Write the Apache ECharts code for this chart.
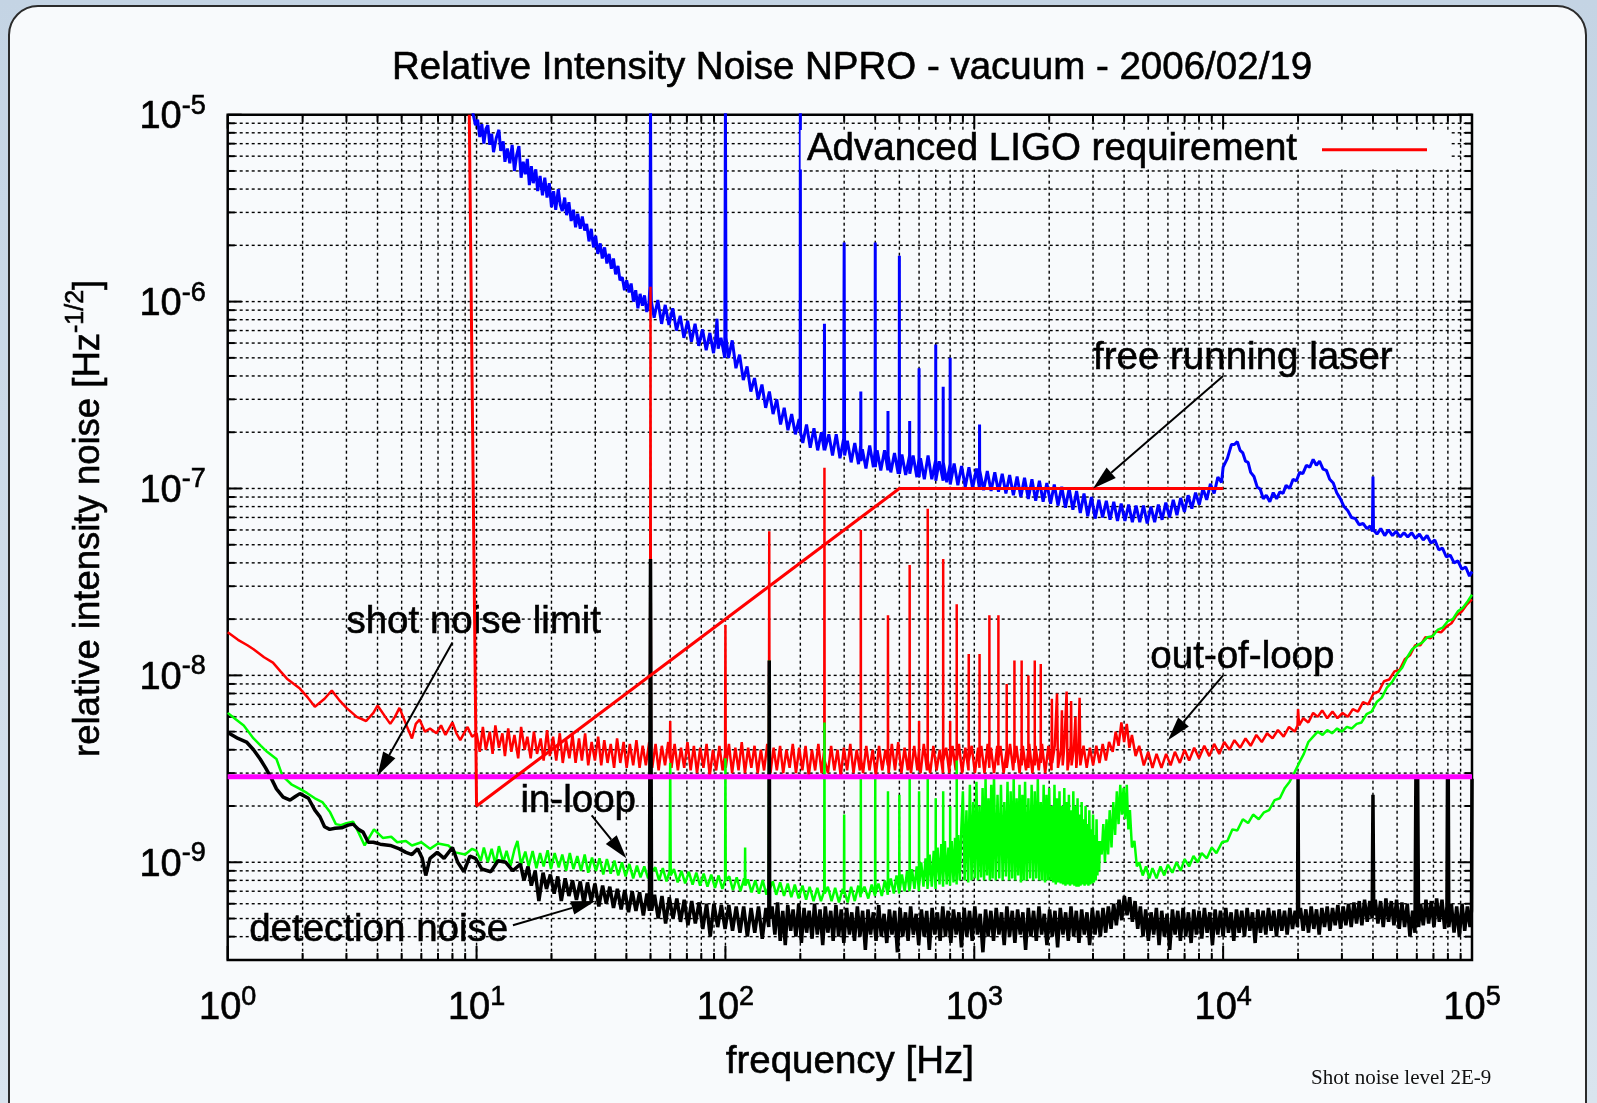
<!DOCTYPE html>
<html><head><meta charset="utf-8">
<script src="https://cdn.jsdelivr.net/npm/echarts@6/dist/echarts.min.js"></script>
<style>
html,body{margin:0;padding:0;width:1597px;height:1103px;overflow:hidden;background:linear-gradient(180deg,#c4d4e4,#d9e4ee);}
#panel{position:absolute;left:8px;top:5px;width:1579px;height:1130px;border:2px solid #2b2b2b;border-radius:30px;background:#f8fafc;box-sizing:border-box;}
#chart{position:absolute;left:0;top:0;width:1597px;height:1103px;}
</style></head>
<body><div id="panel"></div><div id="chart"></div>
<script>
// ---------- data (frequency [Hz], relative intensity noise [1/sqrt(Hz)]) ----------
const freeRunning = [
[9.5,1.2e-5],[9.7,1.0e-5],[9.9,8.8e-6],[10.1,9.4e-6],[10.3,7.6e-6],[10.5,8.9e-6],[10.7,7.0e-6],[10.9,8.4e-6],[11.1,8.8e-6],[11.3,6.9e-6],[11.5,7.9e-6],[11.7,6.3e-6],[12.0,7.5e-6],[12.3,8.3e-6],[12.5,6.4e-6],[12.8,7.2e-6],[13.0,5.6e-6],[13.3,6.6e-6],[13.6,5.5e-6],[13.9,6.9e-6],[14.2,5.0e-6],[14.5,6.1e-6],[14.8,6.8e-6],[15.1,4.6e-6],[15.4,5.6e-6],[15.7,4.8e-6],[16.0,5.8e-6],[16.3,4.2e-6],[16.6,5.3e-6],[16.9,4.3e-6],[17.3,5.1e-6],[17.6,3.9e-6],[18.0,4.7e-6],[18.4,3.7e-6],[18.8,4.6e-6],[19.2,3.6e-6],[19.6,4.3e-6],[20.0,3.2e-6],[20.4,3.9e-6],[20.8,3.1e-6],[21.3,4.0e-6],[21.7,3.3e-6],[22.1,3.05e-6],[22.6,3.6e-6],[23.0,2.9e-6],[23.5,3.4e-6],[24.0,2.7e-6],[24.5,3.1e-6],[25.0,2.5e-6],[25.5,2.95e-6],[26.1,2.45e-6],[26.6,2.85e-6],[27.2,2.4e-6],[27.7,2.6e-6],[28.3,2.1e-6],[28.9,2.45e-6],[29.5,1.95e-6],[30.1,2.25e-6],[30.7,1.8e-6],[31.4,2.05e-6],[32.0,1.7e-6],[32.7,1.95e-6],[33.4,1.6e-6],[34.1,1.8e-6],[34.8,1.5e-6],[35.5,1.7e-6],[36.2,1.4e-6],[37.0,1.55e-6],[37.7,1.3e-6],[38.5,1.35e-6],[39.3,1.15e-6],[40.1,1.3e-6],[41.0,1.12e-6],[41.8,1.25e-6],[42.7,1.0e-6],[43.6,1.15e-6],[44.5,0.92e-6],[45.4,1.1e-6],[46.4,0.95e-6],[47.3,1.08e-6],[48.3,0.88e-6],[49.3,0.98e-6],[49.7,1.2e-6],[50,1.2e-5],[50.3,1.2e-6],
[50.4,1.0e-6],[51.7,8.2e-7],[53.5,1.02e-6],[55.4,7.6e-7],[57.3,9.6e-7],[59.3,7.5e-7],[61.4,9.2e-7],[63.6,7.0e-7],[65.8,8.4e-7],[68.1,6.4e-7],[70.5,7.9e-7],[73,6.1e-7],[75.5,7.6e-7],[78.1,5.8e-7],[80.9,7.1e-7],[83.7,5.5e-7],[86.6,6.8e-7],[89.6,5.3e-7],[91.5,6.5e-7],[92.5,8.1e-7],[93.5,5.6e-7],[96,6.4e-7],[99.4,5.0e-7],[100,1.2e-5],[100.6,6.4e-7],[102.9,5.0e-7],[106.5,6.2e-7],[110.2,4.4e-7],[114,5.2e-7],[118,3.8e-7],[122.2,4.5e-7],[126.5,3.3e-7],[130.9,3.9e-7],[135.4,3.0e-7],[140.2,3.6e-7],[145.1,2.7e-7],[150.2,3.3e-7],[155.4,2.5e-7],[160.8,3.0e-7],[166.5,2.2e-7],[172.3,2.7e-7],[178.3,2.05e-7],[184.6,2.5e-7],[191,1.95e-7],[197.7,2.35e-7],[199.6,2.0e-7],[200,1.2e-5],[200.4,2.0e-7],[204.6,1.75e-7],[211.8,2.2e-7],[219.2,1.65e-7],[226.9,2.1e-7],[234.8,1.6e-7],[243,2.0e-7],[249.5,1.6e-7],[250,7.6e-7],[250.5,1.6e-7],[260.3,1.95e-7],[269.4,1.5e-7],[278.8,1.95e-7],[288.6,1.45e-7],[298.7,1.85e-7],[300,2.07e-6],[301.3,1.5e-7],[309,1.8e-7],[320,1.38e-7],[331,1.75e-7],[342.6,1.35e-7],[349.5,1.7e-7],[350,3.3e-7],[350.5,1.4e-7],[355,1.62e-7],[367,1.28e-7],[380,1.7e-7],[393.3,1.3e-7],[399.5,1.6e-7],[400,2.07e-6],[400.5,1.3e-7],[407,1.6e-7],[421,1.25e-7],[436,1.6e-7],[449.5,1.25e-7],[450,2.6e-7],[450.5,1.5e-7],[462,1.22e-7],[478,1.55e-7],[494.7,1.2e-7],[499.5,1.5e-7],[500,1.76e-6],[500.5,1.2e-7],[512,1.52e-7],[530,1.18e-7],[549.5,1.5e-7],[550,2.3e-7],[550.5,1.2e-7],[568,1.5e-7],[588,1.15e-7],[599.5,1.45e-7],[600,4.4e-7],[600.5,1.15e-7],[608,1.45e-7],[630,1.12e-7],[652,1.5e-7],[675,1.12e-7],[699.5,1.42e-7],[700,5.9e-7],[700.5,1.1e-7],[723,1.4e-7],[749.5,1.1e-7],[750,3.5e-7],[750.5,1.38e-7],[775,1.08e-7],[799.5,1.35e-7],[800,5.0e-7],[800.5,1.05e-7],[830,1.36e-7],[859,1.04e-7],[889,1.32e-7],[920,1.02e-7],[952,1.3e-7],[985,1.0e-7],[1020,1.28e-7],[1049,1.0e-7],[1050,2.2e-7],[1051,1.25e-7],[1090,9.8e-8],[1128,1.24e-7],[1168,9.7e-8],[1209,1.22e-7],
[1251,9.6e-8],[1295,1.2e-7],[1340,9.4e-8],[1387,1.18e-7],[1436,9.2e-8],[1486,1.16e-7],[1538,9.0e-8],[1592,1.14e-7],[1648,8.8e-8],[1705,1.12e-7],[1765,8.6e-8],[1827,1.1e-7],[1891,8.5e-8],[1957,1.07e-7],[2025,8.3e-8],[2096,1.05e-7],[2170,8.1e-8],[2246,1.02e-7],[2324,7.9e-8],[2406,1.0e-7],[2490,7.7e-8],[2577,9.7e-8],[2667,7.4e-8],[2760,9.4e-8],[2857,7.1e-8],[2957,9.0e-8],[3060,6.9e-8],[3167,8.7e-8],[3278,7.0e-8],[3393,8.6e-8],[3512,6.8e-8],[3635,8.5e-8],[3762,6.7e-8],[3893,8.3e-8],[4030,6.7e-8],[4171,8.2e-8],[4317,6.6e-8],[4468,8.1e-8],[4624,6.6e-8],[4786,8.1e-8],[4953,6.5e-8],[5127,8.0e-8],[5306,6.6e-8],[5492,8.2e-8],[5684,6.8e-8],[5883,8.4e-8],[6089,7.0e-8],[6302,8.7e-8],[6522,7.2e-8],[6751,8.9e-8],[6987,7.5e-8],[7231,9.2e-8],[7484,7.8e-8],[7746,9.5e-8],[8017,8.2e-8],[8298,1.0e-7],[8588,8.7e-8],[8889,1.06e-7],[9200,9.4e-8],[9522,1.15e-7],[9855,1.08e-7],
[10000,1.3e-7],[10400,1.45e-7],[10800,1.72e-7],[11100,1.72e-7],[11400,1.78e-7],[11700,1.6e-7],[12000,1.55e-7],[12300,1.4e-7],[12600,1.38e-7],[12900,1.22e-7],[13300,1.16e-7],[13700,1.02e-7],[14100,9.9e-8],[14500,8.8e-8],[14900,9.2e-8],[15400,8.5e-8],[15900,9.5e-8],[16400,8.8e-8],[16900,9.6e-8],[17400,9.4e-8],[17900,1.04e-7],[18500,1.0e-7],[19100,1.12e-7],[19700,1.1e-7],[20300,1.22e-7],[20900,1.2e-7],[21600,1.33e-7],[22300,1.3e-7],[23000,1.43e-7],[23700,1.33e-7],[24400,1.4e-7],[25200,1.27e-7],[26000,1.25e-7],[26800,1.12e-7],[27700,1.07e-7],[28600,9.5e-8],[29600,8.8e-8],[30600,8.0e-8],[31700,7.6e-8],[32800,7.0e-8],[34000,6.9e-8],[35200,6.4e-8],[36500,6.5e-8],[37800,6.1e-8],[39000,6.3e-8],[39800,5.9e-8],[40000,1.16e-7],[40200,6.0e-8],[41500,5.7e-8],[43000,6.1e-8],[44600,5.6e-8],[46200,6.0e-8],[47900,5.6e-8],[49600,5.9e-8],[51400,5.5e-8],[53300,5.8e-8],[55200,5.5e-8],[57200,5.8e-8],[59300,5.4e-8],[61500,5.7e-8],[63700,5.3e-8],[66000,5.6e-8],[68400,5.1e-8],[70900,5.3e-8],[73500,4.7e-8],[76100,4.8e-8],[78900,4.3e-8],[81800,4.4e-8],[84700,4.0e-8],[87800,4.1e-8],[91000,3.7e-8],[94300,3.8e-8],[97700,3.4e-8],[100000,3.6e-8]
];
const outOfLoop = [
[1,1.7e-8],[1.1,1.55e-8],[1.2,1.45e-8],[1.27,1.38e-8],[1.4,1.25e-8],[1.52,1.17e-8],[1.63,1.05e-8],[1.73,9.6e-9],[1.95,8.5e-9],[2.1,7.6e-9],[2.24,6.8e-9],[2.45,7.5e-9],[2.62,8.3e-9],[2.8,7.4e-9],[3.0,6.7e-9],[3.3,6.0e-9],[3.6,5.7e-9],[3.85,6.3e-9],[4.0,6.9e-9],[4.3,6.0e-9],[4.5,5.5e-9],[4.7,6.0e-9],[4.9,6.7e-9],[5.2,5.5e-9],[5.5,4.6e-9],[5.7,5.5e-9],[5.9,5.8e-9],[6.2,5.0e-9],[6.5,5.2e-9],[6.9,4.9e-9],[7.2,5.4e-9],[7.5,4.8e-9],[8.0,5.6e-9],[8.3,4.9e-9],[8.6,4.5e-9],[9.2,5.3e-9],[9.6,4.7e-9],
[10,4.9e-9],[10.3,3.9e-9],[10.6,5.3e-9],[10.9,4.0e-9],[11.3,5.0e-9],[11.6,3.8e-9],[11.9,5.4e-9],[12.3,4.1e-9],[12.7,4.9e-9],[13.0,3.7e-9],[13.4,5.2e-9],[13.8,3.9e-9],[14.2,4.8e-9],[14.7,3.6e-9],[15.1,5.3e-9],[15.6,4.0e-9],[16.0,4.7e-9],[16.5,3.6e-9],[17.0,5.0e-9],[17.5,3.8e-9],[18.1,4.6e-9],[18.6,3.5e-9],[19.2,5.1e-9],[19.7,3.7e-9],[20.3,4.7e-9],[20.9,3.5e-9],[21.6,4.9e-9],[22.2,3.4e-9],[22.9,4.5e-9],[23.6,3.6e-9],[24.3,4.8e-9],[25.0,3.4e-9],[25.8,4.6e-9],[26.5,3.5e-9],[27.3,4.9e-9],[28.1,3.3e-9],[29.0,4.4e-9],[29.9,3.5e-9],[30.8,4.7e-9],[31.7,3.3e-9],[32.6,4.5e-9],[33.6,3.4e-9],[34.6,4.3e-9],[35.7,3.2e-9],[36.7,4.6e-9],[37.8,3.4e-9],[39.0,4.4e-9],[40.1,3.2e-9],[41.3,4.3e-9],[42.6,3.3e-9],[43.9,4.5e-9],[45.2,3.2e-9],[46.5,4.2e-9],[47.9,3.3e-9],[49.4,4.4e-9],[49.8,3.6e-9],[50,1.2e-6],[50.2,3.6e-9],[50.8,3.2e-9],[52.4,4.3e-9],[53.9,3.1e-9],[55.5,4.2e-9],[57.2,3.3e-9],[58.9,4.4e-9],[59.8,3.6e-9],[60,5.7e-9],[60.2,3.5e-9],[60.7,3.2e-9],[62.5,4.3e-9],[64.4,3.1e-9],[66.3,4.1e-9],[68.3,3.2e-9],[70.4,4.4e-9],[72.5,3.1e-9],[74.7,4.2e-9],[76.9,3.0e-9],[79.2,4.1e-9],[81.6,3.2e-9],[84.0,4.3e-9],[86.5,2.9e-9],[89.1,4.0e-9],[91.8,3.1e-9],[94.6,4.2e-9],[97.4,3.1e-9],[99.7,3.8e-9],[100,1.86e-8],[100.3,3.2e-9],[103.3,4.3e-9],[106.4,3.0e-9],[109.6,4.1e-9],[112.9,3.1e-9],[116.3,4.4e-9],[119.8,3.0e-9],[123.4,4.1e-9],[127.1,3.2e-9],[130.9,4.2e-9],[134.8,3.0e-9],[138.8,4.0e-9],[143.0,3.1e-9],[147.3,4.3e-9],[149.6,3.5e-9],[150,5.9e-8],[150.4,3.4e-9],[151.7,3.0e-9],[156.2,4.1e-9],[160.9,3.1e-9],[165.8,4.2e-9],[170.7,3.0e-9],[175.8,4.0e-9],[181.1,3.2e-9],[186.5,4.3e-9],[192.1,3.0e-9],[197.9,4.1e-9],[203.8,3.1e-9],[209.9,4.2e-9],[216.2,2.9e-9],[222.7,4.0e-9],[229.4,3.1e-9],[236.3,4.3e-9],[243.4,3.0e-9],[249.6,4.0e-9],[250,1.29e-7],[250.4,3.5e-9],[258.2,3.0e-9],[265.9,4.2e-9],[273.9,3.1e-9],[282.1,4.0e-9],[290.6,2.9e-9],[299.3,4.1e-9],[308.3,3.1e-9],[317.5,4.3e-9],[327.1,3.0e-9],[336.9,4.0e-9],[347.0,3.1e-9],[349.6,3.8e-9],[350,6.0e-8],[350.4,3.6e-9],[357.4,3.0e-9],[368.1,4.2e-9],[379.2,3.1e-9],[390.5,4.0e-9],[402.3,2.9e-9],[414.3,4.2e-9],[426.8,3.1e-9],[439.6,4.0e-9],[449.6,3.3e-9],[450,2.1e-8],[450.4,3.5e-9],[452.8,3.0e-9],[466.3,4.3e-9],[480.3,3.1e-9],[494.7,4.4e-9],[509.6,3.0e-9],[524.9,4.1e-9],[540.6,3.1e-9],[549.6,4.0e-9],[550,3.9e-8],[550.4,3.4e-9],[556.8,3.0e-9],[573.6,4.2e-9],[590.8,3.1e-9],[599.6,4.0e-9],[600,5.7e-9],[600.4,3.4e-9],[608.5,3.0e-9],[626.7,4.3e-9],[645.5,3.1e-9],[649.6,3.9e-9],[650,7.8e-8],[650.4,3.5e-9],[664.9,3.0e-9],[684.9,4.2e-9],[705.4,3.1e-9],[726.5,4.0e-9],[748.3,3.0e-9],[749.6,3.8e-9],[750,4.2e-8],[750.4,3.5e-9],[770.8,4.1e-9],[793.9,3.0e-9],[799.6,3.8e-9],[800,5.7e-9],[800.4,3.3e-9],[817.7,4.2e-9],[842.2,3.1e-9],[849.6,3.9e-9],[850,2.4e-8],[850.4,3.5e-9],[867.5,4.3e-9],[893.5,3.0e-9],[920.3,4.1e-9],[947.9,3.1e-9],[949.6,3.8e-9],[950,1.3e-8],[950.4,3.5e-9],[976.4,4.2e-9],[1005.7,3.0e-9],[1035.8,4.1e-9],[1049.5,3.2e-9],[1050,1.3e-8],[1050.5,3.6e-9],[1066.9,4.2e-9],[1098.9,3.0e-9],[1131.9,4.3e-9],[1149.5,3.2e-9],[1150,2.1e-8],[1150.5,3.5e-9],[1165.9,4.1e-9],[1200.9,3.0e-9],[1236.9,4.2e-9],[1249.5,3.3e-9],[1250,2.1e-8],[1250.5,3.6e-9],[1274,4.2e-9],[1312,3.0e-9],[1349.5,4.0e-9],[1350,9e-9],[1350.5,3.2e-9],[1392,4.3e-9],[1434,3.1e-9],[1449.5,3.9e-9],[1450,1.2e-8],[1450.5,3.4e-9],[1477,4.2e-9],[1521,3.0e-9],[1549.5,4.0e-9],[1550,1.2e-8],[1550.5,3.3e-9],[1567,4.2e-9],[1614,3.1e-9],[1649.5,4.0e-9],[1650,1.0e-8],[1650.5,3.2e-9],[1662,4.3e-9],[1712,3.0e-9],[1749.5,4.1e-9],[1750,1.2e-8],[1750.5,3.3e-9],[1763,4.2e-9],[1816,3.1e-9],[1849.5,4.0e-9],[1850,1.15e-8],[1850.5,3.4e-9],[1871,4.3e-9],[1927,3.0e-9],[1985,4.2e-9],[2044,3.1e-9],[2050,7.5e-9],[2056,3.4e-9],[2106,4.2e-9],[2150,8e-9],[2169,3.2e-9],[2234,4.1e-9],[2250,6.5e-9],[2266,3.3e-9],[2301,4.2e-9],[2350,8.2e-9],[2370,3.1e-9],[2441,4.2e-9],[2450,7.3e-9],[2460,3.3e-9],[2514,4.1e-9],[2550,6.0e-9],[2570,3.2e-9],[2620,4.2e-9],[2650,7.6e-9],[2668,3.3e-9],[2748,4.2e-9],[2830,3.2e-9],[2915,4.1e-9],[3003,3.3e-9],[3093,4.2e-9],[3185,3.4e-9],[3281,4.3e-9],
[3380,3.5e-9],[3480,4.4e-9],[3600,3.9e-9],[3700,5.0e-9],[3800,4.2e-9],[3900,5.6e-9],[4000,4.4e-9],[4100,5.5e-9],[4200,4.1e-9],[4300,4.8e-9],[4450,3.7e-9],[4600,4.2e-9],[4800,3.3e-9],[5000,3.9e-9],[5200,3.2e-9],[5400,3.8e-9],[5650,3.2e-9],[5900,3.8e-9],[6150,3.3e-9],[6400,3.9e-9],[6700,3.4e-9],[7000,4.0e-9],[7300,3.5e-9],[7650,4.1e-9],[8000,3.6e-9],[8400,4.2e-9],[8800,3.7e-9],[9200,4.3e-9],[9650,3.8e-9],[10100,4.4e-9],[10600,4.0e-9],[11100,4.5e-9],[11700,4.1e-9],[12300,4.6e-9],[12900,4.2e-9],[13600,4.8e-9],[14300,4.4e-9],[15000,4.9e-9],[15800,4.6e-9],[16600,5.1e-9],[17500,4.7e-9],[18400,5.3e-9],[19400,5.0e-9],[19900,5.4e-9],[20000,6.6e-9],[20200,5.4e-9],[21000,5.9e-9],[22000,5.6e-9],[23000,6.3e-9],[24000,6.0e-9],[25000,6.5e-9],[26200,5.9e-9],[27500,6.4e-9],[28800,5.9e-9],[30200,6.3e-9],[31700,6.0e-9],[33200,6.6e-9],[34800,6.4e-9],[36500,7.2e-9],[38300,7.0e-9],[40200,8.0e-9],[42200,8.2e-9],[44300,9.3e-9],[46500,9.5e-9],[48800,1.05e-8],[51200,1.07e-8],[53700,1.22e-8],[56300,1.28e-8],[59100,1.45e-8],[62000,1.45e-8],[65000,1.6e-8],[68200,1.58e-8],[71600,1.72e-8],[75100,1.7e-8],[78800,1.82e-8],[82700,1.9e-8],[86800,2.1e-8],[91000,2.2e-8],[95500,2.4e-8],[100000,2.55e-8]
];
const inLoop = [
[1,6.3e-9],[1.08,5.8e-9],[1.16,5.4e-9],[1.27,4.6e-9],[1.36,4.2e-9],[1.44,3.9e-9],[1.57,3.57e-9],[1.66,2.9e-9],[1.81,2.6e-9],[1.95,2.47e-9],[2.08,2.35e-9],[2.24,2.2e-9],[2.4,2.1e-9],[2.58,1.85e-9],[2.72,1.6e-9],[2.85,1.58e-9],[3.0,1.62e-9],[3.19,1.65e-9],[3.35,1.45e-9],[3.55,1.23e-9],[3.87,1.5e-9],[4.2,1.35e-9],[4.54,1.37e-9],[4.8,1.28e-9],[5.2,1.3e-9],[5.5,1.23e-9],[6.0,1.28e-9],[6.5,1.18e-9],[7.0,1.26e-9],[7.7,1.23e-9],[8.2,1.13e-9],[9.0,1.1e-9],[9.6,1.18e-9],
[10,1.15e-9],[10.4,1.02e-9],[10.7,1.2e-9],[11.1,1.0e-9],[11.5,1.18e-9],[11.9,0.98e-9],[12.3,1.22e-9],[12.8,1.0e-9],[13.2,1.15e-9],[13.7,0.96e-9],[14.2,1.17e-9],[14.6,1.3e-9],[15.1,0.97e-9],[15.7,1.14e-9],[16.2,0.95e-9],[16.8,1.15e-9],[17.4,0.93e-9],[18,1.12e-9],[18.6,0.95e-9],[19.3,1.16e-9],[19.9,0.92e-9],[20.6,1.12e-9],[21.4,0.94e-9],[22.1,1.1e-9],[22.9,0.9e-9],[23.7,1.12e-9],[24.5,0.92e-9],[25.4,1.08e-9],[26.3,0.9e-9],[27.2,1.1e-9],[28.1,0.88e-9],[29.1,1.06e-9],[30.2,0.9e-9],[31.2,1.05e-9],[32.3,0.86e-9],[33.4,1.04e-9],[34.6,0.87e-9],[35.8,1.02e-9],[37.1,0.85e-9],[38.4,1.0e-9],[39.7,0.84e-9],[41.1,0.98e-9],[42.6,0.82e-9],[44.1,0.96e-9],[45.6,0.83e-9],[47.2,0.95e-9],[48.9,0.82e-9],[49.7,0.88e-9],[50,3.6e-9],[50.3,0.88e-9],[52.3,0.94e-9],[54.1,0.8e-9],[56,0.93e-9],[58,0.79e-9],[59.7,0.9e-9],[60,3.4e-9],[60.3,0.85e-9],[62.1,0.92e-9],[64.3,0.78e-9],[66.6,0.9e-9],[68.9,0.77e-9],[71.3,0.89e-9],[73.8,0.76e-9],[76.4,0.88e-9],[79.1,0.75e-9],[81.8,0.87e-9],[84.7,0.74e-9],[87.7,0.86e-9],[90.8,0.73e-9],[93.9,0.85e-9],[97.2,0.72e-9],[99.7,0.8e-9],[100,3.6e-9],[100.3,0.8e-9],[103.6,0.84e-9],[107.2,0.71e-9],[111,0.83e-9],[114.9,0.7e-9],[118.9,0.82e-9],[119.7,0.75e-9],[120,1.2e-9],[120.3,0.75e-9],[123.1,0.81e-9],[127.4,0.69e-9],[131.8,0.8e-9],[136.4,0.68e-9],[141.2,0.8e-9],[146.2,0.67e-9],[149.4,0.75e-9],[150,1.2e-8],[150.6,0.72e-9],[155,0.79e-9],[160,0.67e-9],[166,0.78e-9],[172,0.66e-9],[178,0.77e-9],[184,0.65e-9],[190,0.76e-9],[197,0.64e-9],[204,0.75e-9],[211,0.63e-9],[218,0.74e-9],[226,0.62e-9],[234,0.73e-9],[242,0.62e-9],[249.4,0.7e-9],[250,5.6e-9],[250.6,0.68e-9],[258,0.74e-9],[267,0.62e-9],[276,0.73e-9],[286,0.61e-9],[296,0.72e-9],[299.5,0.68e-9],[300,1.8e-9],[300.5,0.7e-9],[310,0.61e-9],[320,0.74e-9],[331,0.62e-9],[342,0.75e-9],[349.5,0.65e-9],[350,2.9e-9],[350.6,0.68e-9],[362,0.74e-9],[375,0.64e-9],[387,0.76e-9],[399.4,0.66e-9],[400,2.9e-9],[400.6,0.68e-9],[412,0.77e-9],[425,0.66e-9],[437,0.8e-9],[449.4,0.67e-9],[450,2.4e-9],[450.6,0.7e-9],[462,0.82e-9],[475,0.68e-9],[487,0.85e-9],[499.4,0.68e-9],[500,2.3e-9],[500.6,0.7e-9],[512,0.86e-9],[525,0.7e-9],[537,0.9e-9],[549.4,0.7e-9],[550,2.8e-9],[550.6,0.72e-9],[562,0.92e-9],[575,0.72e-9],[587,0.95e-9],[599.4,0.7e-9],[600,2.4e-9],[600.6,0.75e-9],[612,1.0e-9],[625,0.74e-9],[637,1.05e-9],[649.4,0.72e-9],[650,2.8e-9],[650.6,0.75e-9],[662,1.1e-9],[675,0.74e-9],[687,1.15e-9],[699.4,0.72e-9],[700,2.2e-9],[700.6,0.78e-9],[712,1.2e-9],[725,0.76e-9],[737,1.25e-9],[749.4,0.74e-9],[750,2.4e-9],[750.6,0.8e-9],[762,1.3e-9],[775,0.76e-9],[787,1.2e-9],[799.4,0.75e-9],[800,2.0e-9],[800.6,0.8e-9],[812,1.3e-9],[825,0.78e-9],[837,1.35e-9],[849.4,0.76e-9],[850,3.5e-9],[850.6,0.8e-9],[862,1.4e-9],[875,0.8e-9],[887,1.5e-9],
[900,2.4e-9],[915,0.8e-9],[930,1.9e-9],[945,0.78e-9],[960,2.6e-9],[975,0.8e-9],[990,2.1e-9],[1005,0.82e-9],[1020,2.7e-9],[1035,0.8e-9],[1050,2.0e-9],[1065,0.83e-9],[1080,2.5e-9],[1095,0.8e-9],[1110,2.8e-9],[1125,0.85e-9],[1140,2.2e-9],[1155,0.8e-9],[1170,2.6e-9],[1185,0.82e-9],[1200,2.9e-9],[1220,0.8e-9],[1240,2.3e-9],[1260,0.82e-9],[1280,2.6e-9],[1300,0.8e-9],[1320,2.1e-9],[1340,0.84e-9],[1360,2.7e-9],[1380,0.8e-9],[1400,2.4e-9],[1420,0.82e-9],[1440,2.8e-9],[1460,0.8e-9],[1480,2.2e-9],[1500,0.85e-9],[1520,2.6e-9],[1540,0.78e-9],[1560,2.3e-9],[1580,0.8e-9],[1600,2.7e-9],[1625,0.8e-9],[1650,2.2e-9],[1675,0.82e-9],[1700,2.6e-9],[1725,0.8e-9],[1750,2.4e-9],[1775,0.82e-9],[1800,2.8e-9],[1825,0.8e-9],[1850,2.1e-9],[1875,0.8e-9],[1900,2.6e-9],[1925,0.78e-9],[1950,2.3e-9],[1975,0.8e-9],[2000,2.5e-9],[2025,0.8e-9],[2050,2.0e-9],[2075,0.78e-9],[2100,2.6e-9],[2125,0.76e-9],[2150,2.2e-9],[2175,0.78e-9],[2200,2.4e-9],[2225,0.77e-9],[2250,2.0e-9],[2275,0.76e-9],[2300,2.5e-9],[2325,0.75e-9],[2350,2.1e-9],[2375,0.76e-9],[2400,2.3e-9],[2425,0.75e-9],[2450,1.9e-9],[2475,0.76e-9],[2500,2.4e-9],[2525,0.75e-9],[2550,2.0e-9],[2575,0.74e-9],[2600,2.2e-9],[2625,0.74e-9],[2650,1.8e-9],[2675,0.75e-9],[2700,2.1e-9],[2725,0.76e-9],[2750,1.7e-9],[2775,0.75e-9],[2800,2.0e-9],[2825,0.76e-9],[2850,1.6e-9],[2875,0.75e-9],[2900,1.9e-9],[2925,0.76e-9],[2950,1.5e-9],[2975,0.77e-9],[3000,1.8e-9],[3025,0.78e-9],[3050,1.4e-9],[3075,0.8e-9],[3100,1.7e-9],[3125,0.85e-9],[3150,1.3e-9],[3175,0.9e-9],[3200,1.3e-9],
[3250,1.1e-9],[3300,1.6e-9],[3350,1.0e-9],[3400,1.7e-9],[3450,1.1e-9],[3500,1.9e-9],[3560,1.2e-9],[3620,2.1e-9],[3680,1.4e-9],[3740,2.4e-9],[3800,1.6e-9],[3860,2.6e-9],[3920,1.8e-9],[3980,2.5e-9],[4040,1.7e-9],[4100,2.6e-9],[4160,1.5e-9],[4220,1.9e-9],[4300,1.2e-9],[4400,1.3e-9],[4500,0.95e-9],[4600,1.0e-9],[4750,0.85e-9],[4900,0.95e-9],[5050,0.82e-9],[5200,0.93e-9],[5400,0.82e-9],[5600,0.95e-9],[5800,0.85e-9],[6000,0.97e-9],[6250,0.88e-9],[6500,1.0e-9],[6750,0.9e-9],[7000,1.04e-9],[7300,0.95e-9],[7600,1.08e-9],[7900,1.0e-9],[8200,1.12e-9],[8600,1.05e-9],[9000,1.2e-9],[9400,1.12e-9],[9900,1.28e-9],[10400,1.3e-9],[10900,1.5e-9],[11400,1.48e-9],[12000,1.7e-9],[12600,1.62e-9],[13200,1.8e-9],[13900,1.7e-9],[14600,1.85e-9],[15300,1.9e-9],[16100,2.15e-9],[16900,2.2e-9],[17700,2.5e-9],[18500,2.7e-9],[19300,3.0e-9],[20200,3.4e-9],[21100,3.8e-9],[22000,4.4e-9],[23000,4.7e-9],[24000,5.0e-9],[25100,4.8e-9],[26200,5.1e-9],[27400,4.9e-9],[28700,5.2e-9],[30000,5.0e-9],[31400,5.3e-9],[32900,5.2e-9],[34400,5.5e-9],[36000,5.6e-9],[37700,6.2e-9],[39500,6.4e-9],[41400,7.2e-9],[43400,7.6e-9],[45500,8.6e-9],[47700,9.2e-9],[50000,1.02e-8],[52400,1.1e-8],[54900,1.25e-8],[57500,1.38e-8],[60300,1.45e-8],[63200,1.5e-8],[66200,1.6e-8],[69400,1.62e-8],[72700,1.75e-8],[76200,1.8e-8],[79900,1.95e-8],[83700,2.0e-8],[87700,2.2e-8],[91900,2.3e-8],[96300,2.5e-8],[100000,2.7e-8]
];
const detection = [
[1,4.95e-9],[1.1,4.6e-9],[1.19,4.4e-9],[1.27,4.0e-9],[1.35,3.57e-9],[1.42,3.2e-9],[1.48,2.9e-9],[1.57,2.47e-9],[1.67,2.23e-9],[1.78,2.15e-9],[1.87,2.25e-9],[1.95,2.33e-9],[2.11,2.2e-9],[2.24,1.9e-9],[2.35,1.75e-9],[2.45,1.55e-9],[2.57,1.5e-9],[2.7,1.52e-9],[2.87,1.53e-9],[3.05,1.58e-9],[3.19,1.6e-9],[3.35,1.5e-9],[3.5,1.45e-9],[3.67,1.28e-9],[3.85,1.28e-9],[4.1,1.25e-9],[4.5,1.23e-9],[4.9,1.18e-9],[5.2,1.13e-9],[5.5,1.1e-9],[5.8,1.18e-9],[6.05,1.05e-9],[6.25,0.85e-9],[6.5,1.05e-9],[6.95,1.13e-9],[7.4,1.05e-9],[8.0,1.2e-9],[8.4,1.0e-9],[8.9,0.89e-9],[9.4,1.08e-9],[9.9,1.05e-9],[10.5,0.92e-9],[11.4,0.89e-9],[12.2,1.02e-9],[13.1,1.0e-9],[14,0.9e-9],
[15,0.98e-9],[15.5,0.8e-9],[16.1,0.95e-9],[16.6,0.75e-9],[17.2,0.9e-9],[17.8,0.62e-9],[18.5,0.88e-9],[19.1,0.72e-9],[19.8,0.86e-9],[20.5,0.68e-9],[21.2,0.84e-9],[21.9,0.62e-9],[22.7,0.82e-9],[23.5,0.66e-9],[24.3,0.8e-9],[25.2,0.63e-9],[26.1,0.79e-9],[27,0.6e-9],[27.9,0.78e-9],[28.9,0.62e-9],[29.9,0.77e-9],[31,0.58e-9],[32.1,0.75e-9],[33.2,0.6e-9],[34.3,0.74e-9],[35.5,0.57e-9],[36.8,0.72e-9],[38.1,0.56e-9],[39.4,0.71e-9],[40.8,0.54e-9],[42.2,0.7e-9],[43.7,0.55e-9],[45.2,0.69e-9],[46.8,0.52e-9],[48.4,0.68e-9],[49.5,0.55e-9],[50,4.2e-8],[50.5,0.55e-9],[51.9,0.67e-9],[53.7,0.5e-9],[55.6,0.66e-9],[57.5,0.47e-9],[59.5,0.65e-9],[61.6,0.5e-9],[63.8,0.64e-9],[66,0.48e-9],[68.3,0.63e-9],[70.7,0.46e-9],[73.2,0.62e-9],[75.7,0.47e-9],[78.4,0.61e-9],[81.1,0.44e-9],[84,0.6e-9],[86.9,0.4e-9],[89.9,0.6e-9],[93.1,0.45e-9],[96.3,0.59e-9],[99.7,0.44e-9],[103.2,0.59e-9],[106.8,0.43e-9],[110.5,0.58e-9],[114.4,0.42e-9],[118.4,0.58e-9],[122.5,0.4e-9],[126.8,0.57e-9],[131.2,0.42e-9],[135.8,0.58e-9],[140.6,0.39e-9],[145.5,0.57e-9],[149.4,0.45e-9],[150,1.2e-8],
[150.6,0.5e-9],[154,0.58e-9],[158,0.41e-9],[162,0.61e-9],[166,0.38e-9],[170,0.55e-9],[174,0.36e-9],[178,0.59e-9],[183,0.43e-9],[187,0.56e-9],[192,0.4e-9],[197,0.6e-9],[202,0.37e-9],[207,0.57e-9],[212,0.42e-9],[217,0.55e-9],[223,0.39e-9],[228,0.6e-9],[234,0.41e-9],[240,0.56e-9],[246,0.36e-9],[252,0.58e-9],[258,0.42e-9],[265,0.55e-9],[271,0.38e-9],[278,0.59e-9],[285,0.4e-9],[292,0.56e-9],[299,0.37e-9],
[307,0.57e-9],[315,0.41e-9],[322,0.54e-9],[330,0.38e-9],[339,0.58e-9],[347,0.4e-9],[356,0.55e-9],[365,0.34e-9],[374,0.56e-9],[383,0.41e-9],[393,0.54e-9],[403,0.38e-9],[413,0.59e-9],[423,0.4e-9],[434,0.53e-9],[445,0.37e-9],[456,0.56e-9],[467,0.41e-9],[479,0.55e-9],[491,0.33e-9],[503,0.57e-9],[516,0.4e-9],[529,0.54e-9],[542,0.38e-9],[555,0.58e-9],[569,0.41e-9],[584,0.53e-9],[598,0.36e-9],[613,0.56e-9],[629,0.4e-9],[644,0.55e-9],[660,0.34e-9],[677,0.57e-9],[694,0.41e-9],[711,0.54e-9],[729,0.38e-9],[747,0.58e-9],[766,0.4e-9],[785,0.55e-9],[805,0.37e-9],[825,0.56e-9],[846,0.41e-9],[867,0.54e-9],[888,0.35e-9],[911,0.57e-9],[933,0.4e-9],[957,0.55e-9],[981,0.38e-9],[1005,0.58e-9],[1030,0.41e-9],[1056,0.53e-9],[1083,0.33e-9],[1110,0.56e-9],[1137,0.4e-9],[1166,0.55e-9],[1195,0.38e-9],[1225,0.57e-9],[1256,0.41e-9],[1287,0.54e-9],[1319,0.36e-9],[1352,0.58e-9],[1386,0.4e-9],[1421,0.55e-9],[1456,0.37e-9],[1493,0.56e-9],[1530,0.41e-9],[1568,0.54e-9],[1608,0.34e-9],[1648,0.57e-9],[1689,0.4e-9],[1731,0.55e-9],[1775,0.38e-9],[1819,0.58e-9],[1865,0.41e-9],[1911,0.53e-9],[1959,0.36e-9],[2008,0.56e-9],[2058,0.4e-9],[2110,0.55e-9],[2162,0.35e-9],[2216,0.57e-9],[2272,0.41e-9],[2329,0.54e-9],[2387,0.38e-9],[2447,0.58e-9],[2508,0.4e-9],[2570,0.55e-9],[2635,0.37e-9],[2701,0.56e-9],[2768,0.41e-9],[2837,0.54e-9],[2908,0.36e-9],[2981,0.57e-9],[3056,0.41e-9],[3132,0.55e-9],[3210,0.4e-9],[3290,0.57e-9],
[3373,0.42e-9],[3457,0.58e-9],[3544,0.44e-9],[3632,0.6e-9],[3723,0.46e-9],[3816,0.63e-9],[3911,0.49e-9],[4009,0.66e-9],[4110,0.52e-9],[4212,0.65e-9],[4318,0.48e-9],[4426,0.62e-9],[4536,0.44e-9],[4650,0.58e-9],[4766,0.4e-9],
[4885,0.56e-9],[5007,0.38e-9],[5133,0.54e-9],[5261,0.41e-9],[5392,0.57e-9],[5527,0.36e-9],[5665,0.55e-9],[5807,0.4e-9],[5952,0.53e-9],[6101,0.34e-9],[6254,0.56e-9],[6410,0.41e-9],[6570,0.55e-9],[6734,0.38e-9],[6903,0.57e-9],[7075,0.4e-9],[7252,0.54e-9],[7434,0.37e-9],[7620,0.56e-9],[7810,0.41e-9],[8005,0.55e-9],[8205,0.39e-9],[8410,0.57e-9],[8621,0.42e-9],[8836,0.54e-9],[9057,0.36e-9],[9284,0.56e-9],[9516,0.41e-9],[9754,0.55e-9],[9998,0.4e-9],[10248,0.57e-9],[10504,0.42e-9],[10766,0.54e-9],[11035,0.38e-9],[11311,0.56e-9],[11594,0.42e-9],[11884,0.55e-9],[12181,0.4e-9],[12486,0.57e-9],[12798,0.43e-9],[13118,0.54e-9],[13446,0.37e-9],[13782,0.56e-9],[14126,0.42e-9],[14479,0.55e-9],[14841,0.41e-9],[15212,0.57e-9],[15593,0.43e-9],[15982,0.55e-9],[16382,0.4e-9],[16792,0.56e-9],[17211,0.43e-9],[17642,0.55e-9],[18083,0.41e-9],[18535,0.57e-9],[18998,0.44e-9],[19473,0.55e-9],[19900,0.45e-9],[20000,2.8e-9],[20100,0.5e-9],
[20459,0.57e-9],[20970,0.43e-9],[21495,0.56e-9],[22032,0.42e-9],[22583,0.58e-9],[23148,0.44e-9],[23726,0.56e-9],[24319,0.41e-9],[24927,0.57e-9],[25551,0.45e-9],[26189,0.58e-9],[26844,0.43e-9],[27515,0.57e-9],[28203,0.46e-9],[28908,0.59e-9],[29631,0.44e-9],[30372,0.58e-9],[31131,0.46e-9],[31909,0.6e-9],[32707,0.45e-9],[33525,0.61e-9],[34363,0.47e-9],[35222,0.62e-9],[36102,0.46e-9],[37005,0.63e-9],[37930,0.48e-9],[38878,0.62e-9],[39700,0.5e-9],[40000,2.3e-9],[40300,0.52e-9],
[40851,0.63e-9],[41872,0.47e-9],[42919,0.62e-9],[43992,0.45e-9],[45092,0.64e-9],[46219,0.48e-9],[47375,0.62e-9],[48559,0.46e-9],[49773,0.63e-9],[51017,0.44e-9],[52293,0.61e-9],[53600,0.45e-9],[54940,0.6e-9],[56314,0.4e-9],[57722,0.55e-9],[59000,0.42e-9],[59500,2.8e-9],[60000,0.9e-9],[60500,2.8e-9],[61000,0.45e-9],[62163,0.6e-9],[63717,0.46e-9],[65310,0.63e-9],[66943,0.47e-9],[68616,0.62e-9],[70332,0.45e-9],[72090,0.64e-9],[73892,0.48e-9],[75740,0.63e-9],[77633,0.44e-9],[79300,0.58e-9],[79700,2.8e-9],[80000,0.9e-9],[80300,2.8e-9],[80700,0.45e-9],[82620,0.6e-9],[84686,0.42e-9],[86803,0.58e-9],[88973,0.4e-9],[91197,0.6e-9],[93477,0.43e-9],[95814,0.58e-9],[98210,0.45e-9],[99500,0.55e-9],[100000,2.8e-9]
];
const shotNoise = [[1,2.87e-9],[100000,2.87e-9]];
const requirement = [[9.35,1e-5],[10,2e-9],[500,1e-7],[10000,1e-7]];

// axis ticks (decades and minor multipliers)
const xMajorTicks = [1,10,100,1000,10000,100000];
const yMajorTicks = [1e-9,1e-8,1e-7,1e-6,1e-5];
const xMinorDecades = [1,10,100,1000,10000];
const yMinorDecades = [1e-10,1e-9,1e-8,1e-7,1e-6];
const minorSteps = [2,3,4,5,6,7,8,9];

// annotations
const noteTexts = ['free running laser','shot noise limit','out-of-loop','in-loop','detection noise'];
const noteAt = [[3000,4.98e-7],[3,1.92e-8],[5100,1.25e-8],[15,2.12e-9],[1.22,4.3e-10]];
const arrowFrom = [[1e4,4e-7],[8,1.5e-8],[1e4,1e-8],[29,1.78e-9],[14,4.6e-10]];
const arrowTo = [[3000,1e-7],[4,2.9e-9],[6000,4.5e-9],[40,1.05e-9],[30,6.2e-10]];

// ---------- chart ----------
const FONT = '"Liberation Sans", Arial, Helvetica, sans-serif';
const PANEL = '#f8fafc';
const X_MIN = 1, X_MAX = 1e5, Y_MIN = 3e-10, Y_MAX = 1e-5;
const BW = 0.6; // slight stroke to thicken glyphs

function powLabel(v){
  const l = Math.log10(v), e = Math.round(l);
  if (Math.abs(l - e) > 1e-6) return '';
  return '{b|10}{s|' + e + '}';
}
const tickRich = {
  b:{fontSize:38,fontFamily:FONT,color:'#000',lineHeight:44,verticalAlign:'bottom',textBorderColor:'#000',textBorderWidth:BW},
  s:{fontSize:27,fontFamily:FONT,color:'#000',lineHeight:28,verticalAlign:'top',textBorderColor:'#000',textBorderWidth:BW}
};

const xGridData = [];
xMajorTicks.forEach(v => xGridData.push([v, Y_MIN, 1]));
xMinorDecades.forEach(d => minorSteps.forEach(m => xGridData.push([d*m, Y_MIN, 0])));
const yGridData = [];
yMajorTicks.forEach(v => yGridData.push([X_MIN, v, 1]));
yMinorDecades.forEach(d => minorSteps.forEach(m => { const v = d*m; if (v > Y_MIN*1.01) yGridData.push([X_MIN, v, 0]); }));

const dash = {stroke:'#000',lineWidth:1.4,lineDash:[3,3]};
const tickStyle = {stroke:'#000',lineWidth:2};

function renderXGrid(params, api){
  const cs = params.coordSys, f = api.value(0), major = api.value(2);
  const x = api.coord([f, Y_MIN])[0];
  const t = major ? 14 : 7, top = cs.y, bot = cs.y + cs.height;
  const kids = [];
  if (f > X_MIN*1.001 && f < X_MAX*0.999) kids.push({type:'line',shape:{x1:x,y1:top,x2:x,y2:bot},style:dash});
  kids.push({type:'line',shape:{x1:x,y1:bot,x2:x,y2:bot-t},style:tickStyle});
  kids.push({type:'line',shape:{x1:x,y1:top,x2:x,y2:top+t},style:tickStyle});
  return {type:'group',children:kids};
}
function renderYGrid(params, api){
  const cs = params.coordSys, v = api.value(1), major = api.value(2);
  const y = api.coord([X_MIN, v])[1];
  const t = major ? 14 : 7, l = cs.x, r = cs.x + cs.width;
  const kids = [];
  if (v < Y_MAX*0.999) kids.push({type:'line',shape:{x1:l,y1:y,x2:r,y2:y},style:dash});
  kids.push({type:'line',shape:{x1:l,y1:y,x2:l+t,y2:y},style:tickStyle});
  kids.push({type:'line',shape:{x1:r,y1:y,x2:r-t,y2:y},style:tickStyle});
  return {type:'group',children:kids};
}
function renderArrow(params, api){
  const p0 = api.coord([api.value(0), api.value(1)]);
  const p1 = api.coord([api.value(2), api.value(3)]);
  const dx = p1[0]-p0[0], dy = p1[1]-p0[1], L = Math.hypot(dx, dy);
  const ux = dx/L, uy = dy/L, hl = 24, hw = 7;
  const bx = p1[0]-ux*hl, by = p1[1]-uy*hl;
  return {type:'group',children:[
    {type:'line',shape:{x1:p0[0],y1:p0[1],x2:bx,y2:by},style:{stroke:'#000',lineWidth:2}},
    {type:'polygon',shape:{points:[[p1[0],p1[1]],[bx-uy*hw,by+ux*hw],[bx+uy*hw,by-ux*hw]]},style:{fill:'#000'}}
  ]};
}
function renderNote(params, api){
  const p = api.coord([api.value(0), api.value(1)]);
  return {type:'text',x:p[0],y:p[1],style:{text:noteTexts[params.dataIndex],fill:'#000',fontSize:38.5,fontFamily:FONT,align:'left',verticalAlign:'middle',stroke:'#000',lineWidth:BW}};
}

function lineSeries(name, data, color, width, z){
  return {name, type:'line', data, showSymbol:false, symbol:'none', clip:true, z,
    lineStyle:{color, width}, itemStyle:{color}, emphasis:{disabled:true}, silent:true, animation:false};
}

const chart = echarts.init(document.getElementById('chart'), null, {renderer:'canvas'});
chart.setOption({
  animation:false,
  backgroundColor:'transparent',
  title:{text:'Relative Intensity Noise NPRO - vacuum - 2006/02/19', left:387, top:44,
    textStyle:{fontSize:38.5,fontWeight:'normal',fontFamily:FONT,color:'#000',textBorderColor:'#000',textBorderWidth:BW}},
  legend:{data:['Advanced LIGO requirement'], right:148, top:130, align:'right', icon:'rect', itemWidth:105, itemHeight:3,
    padding:[0,22,0,6], backgroundColor:PANEL,
    textStyle:{fontSize:38.5,fontFamily:FONT,color:'#000',lineHeight:36,padding:[0,20,0,0],textBorderColor:'#000',textBorderWidth:BW}, selectedMode:false},
  grid:{left:227.7, top:114.7, width:1244.3, height:845.3, show:true, borderColor:'#000', borderWidth:2.5, backgroundColor:'transparent'},
  xAxis:{type:'log', logBase:10, min:X_MIN, max:X_MAX,
    name:'frequency [Hz]', nameLocation:'middle', nameGap:83,
    nameTextStyle:{fontSize:38.5,fontFamily:FONT,color:'#000',textBorderColor:'#000',textBorderWidth:BW},
    axisLine:{show:false}, axisTick:{show:false}, splitLine:{show:false},
    axisLabel:{formatter:powLabel, rich:tickRich, margin:24, showMinLabel:true, showMaxLabel:true, hideOverlap:false}},
  yAxis:{type:'log', logBase:10, min:Y_MIN, max:Y_MAX,
    name:'{n|relative intensity noise [Hz}{s|-1/2}{n|]}', nameLocation:'middle', nameRotate:90, nameGap:120,
    nameTextStyle:{padding:[0,0,0,38], rich:{
      n:{fontSize:36.5,fontFamily:FONT,color:'#000',lineHeight:44,verticalAlign:'bottom',textBorderColor:'#000',textBorderWidth:BW},
      s:{fontSize:25,fontFamily:FONT,color:'#000',lineHeight:28,verticalAlign:'top',textBorderColor:'#000',textBorderWidth:BW}}},
    axisLine:{show:false}, axisTick:{show:false}, splitLine:{show:false},
    axisLabel:{formatter:powLabel, rich:tickRich, margin:22, showMinLabel:true, showMaxLabel:true, hideOverlap:false}},
  series:[
    {type:'custom', name:'xgrid', data:xGridData, renderItem:renderXGrid, encode:{x:0,y:1}, silent:true, z:1, clip:false},
    {type:'custom', name:'ygrid', data:yGridData, renderItem:renderYGrid, encode:{x:0,y:1}, silent:true, z:1, clip:false},
    lineSeries('free running laser', freeRunning, '#0000ff', 3, 2),
    lineSeries('out-of-loop', outOfLoop, '#ff0000', 2.5, 2),
    lineSeries('in-loop', inLoop, '#00ff00', 2.5, 2),
    lineSeries('detection noise', detection, '#000000', 3.5, 2),
    lineSeries('shot noise limit', shotNoise, '#ff00ff', 5, 2),
    lineSeries('Advanced LIGO requirement', requirement, '#ff0000', 3, 2),
    {type:'custom', name:'arrows', data:arrowFrom.map((a,i)=>[a[0],a[1],arrowTo[i][0],arrowTo[i][1]]), renderItem:renderArrow, encode:{x:[0,2],y:[1,3]}, silent:true, z:3, clip:false},
    {type:'custom', name:'notes', data:noteAt, renderItem:renderNote, encode:{x:0,y:1}, silent:true, z:1, clip:false}
  ],
  graphic:[{type:'text', left:1311, top:1068, style:{text:'Shot noise level 2E-9', fontSize:21, fontFamily:'"Liberation Serif", "Times New Roman", serif', fill:'#111'}}]
});
</script></body></html>
